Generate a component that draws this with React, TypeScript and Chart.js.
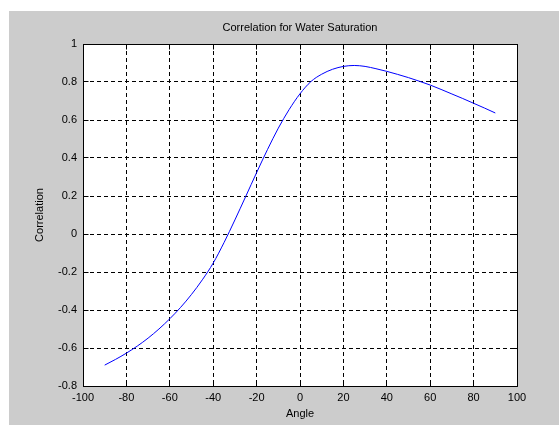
import React, { useEffect, useRef } from "react";
import { Chart, registerables } from "chart.js";

Chart.register(...registerables);

const chartTitle = "Correlation for Water Saturation";
const xAxisLabel = "Angle";
const yAxisLabel = "Correlation";

const angles = [
  -90, -85, -80, -75, -70, -65, -60, -55, -50, -45, -40, -35, -30, -25, -20, -15, -10, -5,
  0, 5, 10, 15, 20, 25, 30, 35, 40, 45, 50, 55, 60, 65, 70, 75, 80, 85, 90,
];
const correlation = [
  -0.69, -0.66, -0.627, -0.59, -0.548, -0.5, -0.446, -0.386, -0.318, -0.241, -0.153, -0.045,
  0.074, 0.198, 0.323, 0.444, 0.557, 0.655, 0.738, 0.802, 0.841, 0.867, 0.882, 0.887, 0.882,
  0.87, 0.856, 0.84, 0.823, 0.804, 0.784, 0.761, 0.737, 0.713, 0.688, 0.663, 0.637,
];

const xTickValues = [-100, -80, -60, -40, -20, 0, 20, 40, 60, 80, 100];
const xTickLabels = ["-100", "-80", "-60", "-40", "-20", "0", "20", "40", "60", "80", "100"];
const yTickValues = [-0.8, -0.6, -0.4, -0.2, 0, 0.2, 0.4, 0.6, 0.8, 1];
const yTickLabels = ["-0.8", "-0.6", "-0.4", "-0.2", "0", "0.2", "0.4", "0.6", "0.8", "1"];

const FONT = { family: "'Liberation Sans', Arial, sans-serif", size: 11, weight: "normal" as const };

const align = (p: number) => Math.round(p - 0.5) + 0.5;

const matlabFrame = {
  id: "matlabFrame",
  beforeDraw(chart: any) {
    const { ctx, chartArea: a } = chart;
    ctx.save();
    ctx.fillStyle = "#ffffff";
    ctx.fillRect(a.left, a.top, a.right - a.left, a.bottom - a.top);
    ctx.restore();
  },
  afterDatasetsDraw(chart: any) {
    const { ctx, chartArea: a, scales } = chart;
    const L = align(a.left);
    const R = align(a.right);
    const T = align(a.top);
    const B = align(a.bottom);
    const len = 5;
    ctx.save();
    ctx.setLineDash([]);
    ctx.strokeStyle = "#000000";
    ctx.lineWidth = 1;
    ctx.beginPath();
    ctx.rect(L, T, R - L, B - T);
    for (const v of xTickValues) {
      const px = align(scales.x.getPixelForValue(v));
      ctx.moveTo(px, B);
      ctx.lineTo(px, B - len);
      ctx.moveTo(px, T);
      ctx.lineTo(px, T + len);
    }
    for (const v of yTickValues) {
      const py = align(scales.y.getPixelForValue(v));
      ctx.moveTo(L, py);
      ctx.lineTo(L + len, py);
      ctx.moveTo(R, py);
      ctx.lineTo(R - len, py);
    }
    ctx.stroke();
    ctx.restore();
  },
};

export default function App() {
  const canvasRef = useRef<HTMLCanvasElement>(null);

  useEffect(() => {
    const canvas = canvasRef.current;
    if (!canvas) return;
    const chart = new Chart(canvas, {
      type: "scatter",
      data: {
        datasets: [
          {
            data: angles.map((a, i) => ({ x: a, y: correlation[i] })),
            showLine: true,
            borderColor: "#0000ff",
            borderWidth: 1,
            pointRadius: 0,
            cubicInterpolationMode: "monotone",
            fill: false,
          },
        ],
      },
      options: {
        animation: false,
        responsive: false,
        events: [],
        layout: { padding: { top: 0, right: 42, bottom: 0, left: 0 } },
        plugins: {
          legend: { display: false },
          tooltip: { enabled: false },
          title: {
            display: true,
            text: chartTitle,
            fullSize: false,
            color: "#000000",
            font: FONT,
            padding: { top: 10.4, bottom: 9.4 },
          },
        },
        scales: {
          x: {
            type: "linear",
            min: -100,
            max: 100,
            afterBuildTicks: (s: any) => {
              s.ticks = xTickValues.map((v) => ({ value: v }));
            },
            afterFit: (s: any) => {
              s.height = 39;
            },
            ticks: {
              color: "#000000",
              font: FONT,
              padding: 5,
              maxRotation: 0,
              autoSkip: false,
              callback: (_v: any, i: number) => xTickLabels[i],
            },
            grid: { color: "#000000", lineWidth: 1, drawTicks: false },
            border: { display: false, dash: [4, 3] },
            title: {
              display: true,
              text: xAxisLabel,
              color: "#000000",
              font: FONT,
              padding: { top: 0, bottom: 4.4 },
            },
          },
          y: {
            type: "linear",
            min: -0.8,
            max: 1,
            afterBuildTicks: (s: any) => {
              s.ticks = yTickValues.map((v) => ({ value: v }));
            },
            afterFit: (s: any) => {
              s.width = 74;
            },
            ticks: {
              color: "#000000",
              font: FONT,
              padding: 6,
              autoSkip: false,
              callback: (_v: any, i: number) => yTickLabels[i],
            },
            grid: { color: "#000000", lineWidth: 1, drawTicks: false },
            border: { display: false, dash: [4, 3] },
            title: {
              display: true,
              text: yAxisLabel,
              color: "#000000",
              font: FONT,
              padding: { top: 24.4, bottom: 0 },
            },
          },
        },
      },
      plugins: [matlabFrame],
    } as any);
    return () => chart.destroy();
  }, []);

  return (
    <div
      style={{
        position: "fixed",
        left: 9,
        top: 11,
        width: 550,
        height: 414,
        background: "#cccccc",
      }}
    >
      <canvas ref={canvasRef} width={550} height={414} style={{ display: "block" }} />
    </div>
  );
}
